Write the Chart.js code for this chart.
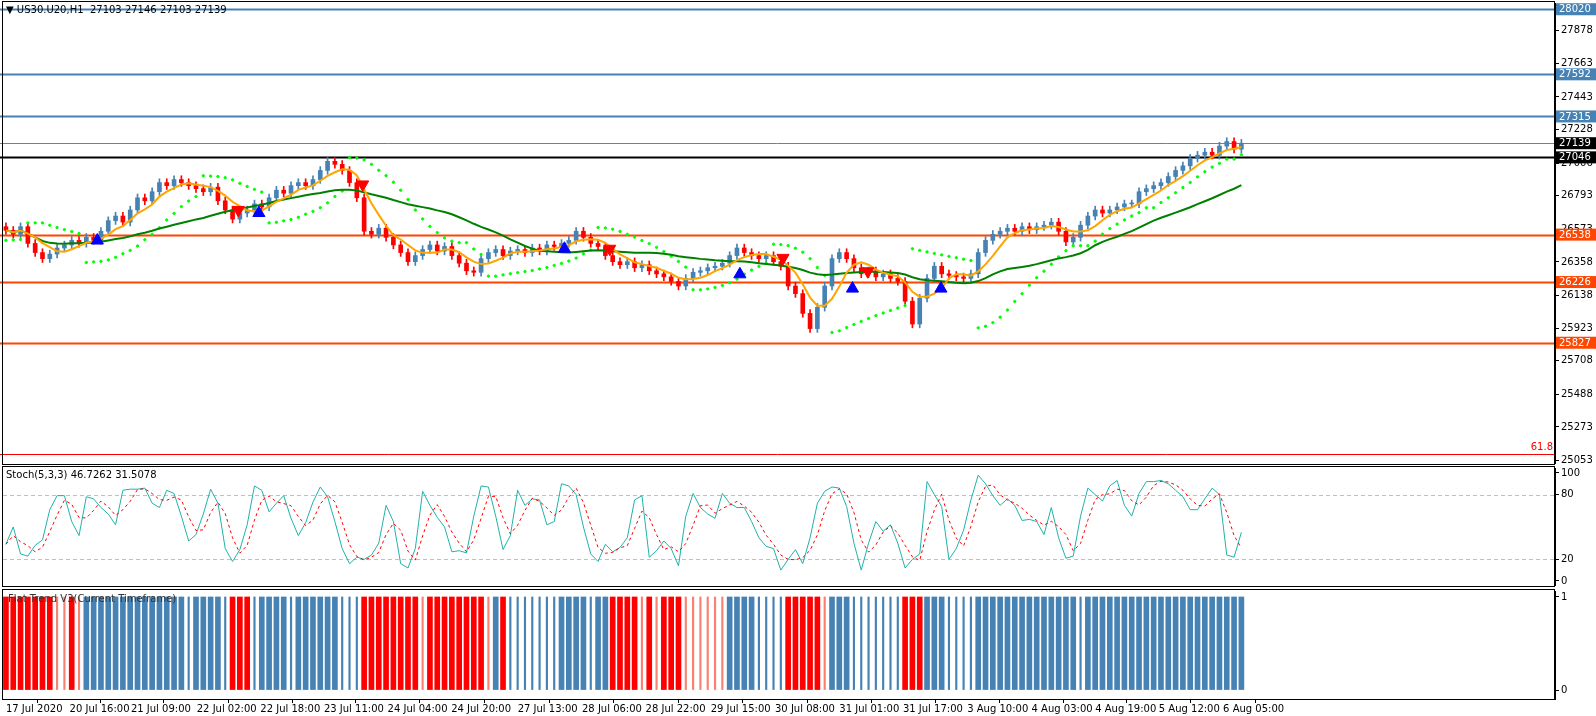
<!DOCTYPE html>
<html>
<head>
<meta charset="utf-8">
<script src="https://cdn.jsdelivr.net/npm/chart.js@4.4.1/dist/chart.umd.min.js"></script>
<style>
  body { margin: 0; background: #fff; width: 1596px; height: 716px; overflow: hidden; font-family: "DejaVu Sans", sans-serif; }
  .pane { position: absolute; left: 0; width: 1596px; overflow: hidden; }
  .inner { position: absolute; left: 0; width: 1596px; top: -7px; }
  .frame { position: absolute; left: 2px; width: 1553px; border: 1px solid #000; box-sizing: border-box; pointer-events: none; }
  .title { position: absolute; font-size: 10px; color: #000; white-space: pre; }
</style>
</head>
<body>
<div class="pane" style="top:2px;height:462px"><div class="inner" style="height:478px"><canvas id="main"></canvas></div></div>
<div class="pane" style="top:467px;height:119px"><div class="inner" style="height:135px"><canvas id="stoch"></canvas></div></div>
<div class="pane" style="top:590px;height:126px"><div class="inner" style="height:133px"><canvas id="flat"></canvas></div></div>
<div class="frame" style="top:1px;height:464px"></div>
<div class="frame" style="top:466px;height:121px"></div>
<div class="frame" style="top:589px;height:111px"></div>
<div class="title" style="left:6px;top:4px">▼ US30.U20,H1  27103 27146 27103 27139</div>
<div class="title" style="left:6px;top:469px">Stoch(5,3,3) 46.7262 31.5078</div>
<div class="title" style="left:8px;top:593px;color:#333">Flat Trend V3(Current Timeframe)</div>
<script>
// ---- data (2h bars) ----
const closes = [
  26566, 26540, 26590, 26480, 26420, 26380, 26410, 26450, 26470, 26500,
  26480, 26520, 26500, 26560, 26630, 26660, 26620, 26700, 26780, 26760,
  26820, 26880, 26860, 26900, 26880, 26860, 26840, 26820, 26850, 26760,
  26700, 26640, 26680, 26700, 26740, 26720, 26780, 26830, 26810, 26860,
  26880, 26860, 26900, 26960, 27020, 27000, 26960, 26880, 26780, 26560,
  26540, 26580, 26520, 26470, 26420, 26360, 26400, 26440, 26470, 26430,
  26460, 26400, 26350, 26300, 26290, 26380, 26420, 26440, 26400, 26430,
  26440, 26420, 26450, 26430, 26470, 26460, 26480, 26500, 26560, 26520,
  26480, 26460, 26400, 26360, 26340, 26360, 26320, 26340, 26300, 26280,
  26260, 26230, 26200, 26250, 26290, 26300, 26320, 26330, 26350, 26400,
  26450, 26420, 26400, 26380, 26400, 26360, 26330, 26200, 26150, 26020,
  25920, 26060, 26200, 26380, 26420, 26380, 26320, 26280, 26300, 26260,
  26280, 26250, 26230, 26100, 25950, 26120, 26250, 26330, 26280, 26270,
  26260, 26250, 26280, 26420, 26500, 26540, 26560, 26580, 26560, 26590,
  26570, 26590, 26600, 26620, 26560, 26490, 26520, 26600, 26660, 26700,
  26680, 26700, 26720, 26740, 26740, 26820, 26840, 26860, 26880, 26920,
  26960, 26990, 27040, 27060, 27080, 27060, 27120, 27150, 27100, 27139
];
const firstOpen = 26590;
const wick = 25;

const stochK = [
  34, 50, 25, 23, 33, 38, 66, 79, 79, 55,
  42, 78, 76, 68, 62, 52, 84, 85, 85, 86,
  72, 68, 84, 81, 60, 37, 43, 62, 85, 72,
  30, 18, 29, 52, 88, 84, 64, 72, 79, 58,
  42, 54, 73, 87, 78, 55, 30, 16, 22, 20,
  24, 35, 70, 55, 16, 12, 30, 83, 70, 59,
  50, 27, 28, 26, 60, 88, 87, 60, 29, 42,
  84, 70, 76, 75, 52, 55, 90, 88, 80, 50,
  25, 18, 34, 27, 31, 40, 75, 79, 22, 28,
  37, 30, 14, 60, 81, 68, 62, 58, 81, 72,
  68, 68, 55, 40, 32, 30, 10, 20, 29, 16,
  40, 72, 83, 87, 86, 69, 35, 10, 35, 55,
  46, 52, 35, 12, 20, 25, 92, 80, 69, 20,
  30, 47, 75, 98, 90, 79, 70, 76, 70, 56,
  57, 55, 43, 68, 40, 21, 23, 60, 86, 80,
  74, 88, 93, 70, 60, 81, 92, 92, 93, 90,
  84, 78, 66, 66, 76, 86, 80, 24, 22, 45
];

// flat trend: R/B solid, r/b weak (thin)
const flatRuns = [
  ['R',7],['r',2],['R',1],['r',1],['B',14],['b',1],['B',4],['b',1],['R',3],['b',1],
  ['B',4],['b',1],['B',6],['b',3],['R',8],['r',1],['R',8],['r',1],['B',1],['R',1],
  ['b',7],['B',4],['b',1],['B',2],['R',4],['r',1],['R',1],['r',1],['R',3],['r',6],
  ['B',4],['b',4],['R',5],['r',1],['B',3],['b',7],['R',3],['B',3],['b',4],['B',14],
  ['b',1],['B',22]
];

const upSignals = [[12.5, 26499], [34.6, 26680], [76.4, 26445], [100.4, 26277], [115.8, 26183], [127.9, 26183]];
const downSignals = [[31.8, 26700], [48.8, 26868], [82.6, 26445], [106.3, 26385], [117.9, 26297]];

const priceTicks = [27878, 27663, 27443, 27228, 27006, 26793, 26573, 26358, 26138, 25923, 25708, 25488, 25273, 25053];
const levels = [
  { v: 28020, color: '#4682B4', w: 2, box: true },
  { v: 27592, color: '#4682B4', w: 2, box: true },
  { v: 27315, color: '#4682B4', w: 2, box: true },
  { v: 27139, color: '#708090', w: 1, box: true, boxColor: '#000' },
  { v: 27046, color: '#000000', w: 2, box: true },
  { v: 26538, color: '#FF4500', w: 2, box: true },
  { v: 26226, color: '#FF4500', w: 2, box: true },
  { v: 25827, color: '#FF4500', w: 2, box: true },
  { v: 25093, color: '#FF0000', w: 1, box: false, text: '61.8' }
];

const timeLabels = ['17 Jul 2020', '20 Jul 16:00', '21 Jul 09:00', '22 Jul 02:00', '22 Jul 18:00', '23 Jul 11:00',
  '24 Jul 04:00', '24 Jul 20:00', '27 Jul 13:00', '28 Jul 06:00', '28 Jul 22:00', '29 Jul 15:00', '30 Jul 08:00',
  '31 Jul 01:00', '31 Jul 17:00', '3 Aug 10:00', '4 Aug 03:00', '4 Aug 19:00', '5 Aug 12:00', '6 Aug 05:00'];
const timeIdx = [0, 8.7, 17.1, 26.1, 34.8, 43.5, 52.2, 60.9, 70.0, 78.8, 87.5, 96.4, 105.2, 114.0, 122.7, 131.5, 140.3, 149.0, 157.7, 166.5];

// ---- derived ----
const opens = closes.map((c, i) => i ? closes[i - 1] : firstOpen);
const highs = closes.map((c, i) => Math.max(c, opens[i]) + wick);
const lows = closes.map((c, i) => Math.min(c, opens[i]) - wick);
const UP = '#4682B4', DN = '#FF0000';
const candleColor = closes.map((c, i) => c >= opens[i] ? UP : DN);

function sma(arr, p) {
  return arr.map((v, i) => {
    const s = arr.slice(Math.max(0, i - p + 1), i + 1);
    return s.reduce((a, b) => a + b, 0) / s.length;
  });
}
function psar(h, l) {
  let up = true, af = 0.02, ep = h[0], sar = l[0] - 40;
  const out = [sar];
  for (let i = 1; i < h.length; i++) {
    sar = sar + af * (ep - sar);
    if (up) {
      sar = Math.min(sar, l[i - 1], l[Math.max(0, i - 2)]);
      if (l[i] < sar) { up = false; sar = ep; ep = l[i]; af = 0.02; }
      else if (h[i] > ep) { ep = h[i]; af = Math.min(af + 0.02, 0.2); }
    } else {
      sar = Math.max(sar, h[i - 1], h[Math.max(0, i - 2)]);
      if (h[i] > sar) { up = true; sar = ep; ep = h[i]; af = 0.02; }
      else if (l[i] < ep) { ep = l[i]; af = Math.min(af + 0.02, 0.2); }
    }
    out.push(sar);
  }
  return out;
}
const maFast = sma(closes, 5);
const maSlow = sma(closes, 25);
const sar = psar(highs, lows);
const stochD = sma(stochK, 3);
const flat = [];
flatRuns.forEach(([t, n]) => { for (let k = 0; k < n; k++) flat.push(t); });

const XMIN = -0.4, XMAX = 211.9;
Chart.defaults.font = { family: 'DejaVu Sans', size: 10 };
Chart.defaults.color = '#000';
Chart.defaults.animation = false;

function xScale(show) {
  const s = {
    type: 'linear', min: XMIN, max: XMAX, display: show, offset: false,
    grid: { display: show, drawOnChartArea: false, tickLength: 4, color: '#000' },
    border: { display: false },
    afterBuildTicks: sc => { sc.ticks = timeIdx.map(v => ({ value: v })); },
    ticks: { align: 'start', padding: 0, maxRotation: 0, autoSkip: false,
      callback: (v, i) => timeLabels[i] }
  };
  if (show) s.afterFit = sc => { sc.height = 17; };
  return s;
}
function yScale(min, max, ticks) {
  return {
    position: 'right', min, max,
    grid: { drawOnChartArea: false, tickLength: 4, color: '#000' },
    border: { display: true, color: '#000' },
    afterBuildTicks: s => { s.ticks = ticks.map(v => ({ value: v })); },
    afterFit: s => { s.width = 41; },
    ticks: { padding: 2, autoSkip: false, callback: v => String(v) }
  };
}
const baseOpts = {
  responsive: true, maintainAspectRatio: false,
  layout: { autoPadding: false, padding: { left: 3, top: 0, bottom: 0, right: 0 } },
  plugins: { legend: { display: false }, tooltip: { enabled: false } }
};

// ---- main price chart ----
const levelPlugin = {
  id: 'levels',
  beforeDatasetsDraw(chart) {
    const { ctx, chartArea: a, scales: { y } } = chart;
    ctx.save();
    levels.forEach(L => {
      const py = Math.round(y.getPixelForValue(L.v)) + 0.5;
      ctx.strokeStyle = L.color; ctx.lineWidth = L.w;
      ctx.beginPath(); ctx.moveTo(0, py); ctx.lineTo(a.right, py); ctx.stroke();
      if (L.text) {
        ctx.fillStyle = L.color; ctx.font = '10px DejaVu Sans';
        ctx.textAlign = 'right'; ctx.textBaseline = 'bottom';
        ctx.fillText(L.text, a.right - 2, py - 2);
      }
    });
    ctx.restore();
  },
  afterDraw(chart) {
    const { ctx, chartArea: a, scales: { y } } = chart;
    ctx.save();
    ctx.font = '10px DejaVu Sans'; ctx.textBaseline = 'middle'; ctx.textAlign = 'left';
    levels.filter(L => L.box).forEach(L => {
      const py = y.getPixelForValue(L.v);
      ctx.fillStyle = L.boxColor || L.color;
      ctx.fillRect(a.right + 1, py - 6, 40, 12);
      ctx.fillStyle = '#fff';
      ctx.fillText(String(L.v), a.right + 4, py + 0.5);
    });
    ctx.restore();
  }
};

new Chart(document.getElementById('main'), {
  type: 'bar',
  data: {
    datasets: [
      { type: 'line', data: maFast.map((v, i) => ({ x: i, y: v })), borderColor: '#FFA500', borderWidth: 2, pointRadius: 0, order: 1 },
      { type: 'line', data: maSlow.map((v, i) => ({ x: i, y: v })), borderColor: '#008000', borderWidth: 2, pointRadius: 0, order: 1 },
      { type: 'scatter', data: sar.map((v, i) => ({ x: i, y: v })), backgroundColor: '#00FF00', borderColor: '#00FF00', pointRadius: 1.2, order: 2 },
      { type: 'scatter', data: upSignals.map(p => ({ x: p[0], y: p[1] })), pointStyle: 'triangle', pointRadius: 7,
        backgroundColor: '#0000FF', borderColor: '#0000FF', order: 0 },
      { type: 'scatter', data: downSignals.map(p => ({ x: p[0], y: p[1] })), pointStyle: 'triangle', rotation: 180, pointRadius: 7,
        backgroundColor: '#FF0000', borderColor: '#FF0000', order: 0 },
      { data: closes.map((c, i) => ({ x: i, y: [lows[i], highs[i]] })), backgroundColor: candleColor, barThickness: 1, grouped: false, order: 4 },
      { data: closes.map((c, i) => ({ x: i, y: [opens[i], c] })), backgroundColor: candleColor, barThickness: 4, minBarLength: 1, grouped: false, order: 3 }
    ]
  },
  options: { ...baseOpts, scales: { x: xScale(false), y: yScale(25023, 28061, priceTicks) } },
  plugins: [levelPlugin]
});

// ---- stochastic ----
const dashPlugin = {
  id: 'dash',
  beforeDatasetsDraw(chart) {
    const { ctx, chartArea: a, scales: { y } } = chart;
    ctx.save(); ctx.strokeStyle = '#C0C0C0'; ctx.setLineDash([4, 3]); ctx.lineWidth = 1;
    [80, 20].forEach(v => {
      const py = Math.round(y.getPixelForValue(v)) + 0.5;
      ctx.beginPath(); ctx.moveTo(a.left, py); ctx.lineTo(a.right, py); ctx.stroke();
    });
    ctx.restore();
  }
};
new Chart(document.getElementById('stoch'), {
  type: 'line',
  data: {
    datasets: [
      { data: stochD.map((v, i) => ({ x: i, y: v })), borderColor: '#FF0000', borderWidth: 1, borderDash: [3, 3], pointRadius: 0 },
      { data: stochK.map((v, i) => ({ x: i, y: v })), borderColor: '#20B2AA', borderWidth: 1, pointRadius: 0 }
    ]
  },
  options: { ...baseOpts, scales: { x: xScale(false), y: yScale(-5.6, 104.6, [100, 80, 20, 0]) } },
  plugins: [dashPlugin]
});

// ---- flat trend ----
const flatCol = { R: '#FF0000', B: '#4682B4', r: '#FA8072', b: '#4682B4' };
new Chart(document.getElementById('flat'), {
  type: 'bar',
  data: {
    datasets: [
      { data: flat.map((t, i) => ({ x: i, y: (t === 'R' || t === 'B') ? 1 : null })),
        backgroundColor: flat.map(t => flatCol[t]), barThickness: 5, grouped: false },
      { data: flat.map((t, i) => ({ x: i, y: (t === 'r' || t === 'b') ? 1 : null })),
        backgroundColor: flat.map(t => flatCol[t]), barThickness: 1.5, grouped: false }
    ]
  },
  options: { ...baseOpts, scales: { x: xScale(true), y: yScale(-0.096, 1.064, [1, 0]) } }
});
</script>
</body>
</html>
